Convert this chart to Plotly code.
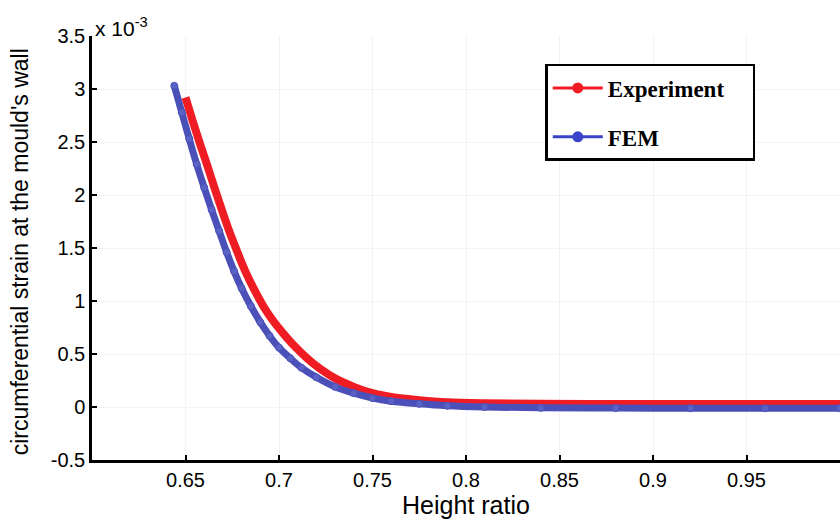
import plotly.graph_objects as go

# Experiment series (height ratio, strain x 1e-3)
exp_x = [0.650, 0.654, 0.658, 0.662, 0.666, 0.670, 0.674, 0.678, 0.682, 0.687,
         0.692, 0.697, 0.702, 0.708, 0.715, 0.722, 0.730, 0.740, 0.750, 0.760,
         0.775, 0.790, 0.810, 0.840, 0.880, 0.920, 0.960, 1.000]
exp_y = [2.92, 2.69, 2.47, 2.26, 2.04, 1.83, 1.63, 1.45, 1.28, 1.10,
         0.94, 0.81, 0.70, 0.58, 0.46, 0.36, 0.27, 0.19, 0.13, 0.095,
         0.065, 0.045, 0.035, 0.030, 0.028, 0.028, 0.028, 0.028]

# FEM series
fem_x = [0.644, 0.648, 0.652, 0.656, 0.660, 0.664, 0.668, 0.672, 0.676, 0.680,
         0.685, 0.690, 0.695, 0.700, 0.706, 0.712, 0.720, 0.730, 0.740, 0.750,
         0.760, 0.775, 0.790, 0.810, 0.840, 0.880, 0.920, 0.960, 1.000]
fem_y = [3.03, 2.78, 2.53, 2.29, 2.07, 1.86, 1.66, 1.46, 1.28, 1.12,
         0.95, 0.80, 0.67, 0.56, 0.46, 0.37, 0.28, 0.19, 0.13, 0.085,
         0.055, 0.030, 0.012, 0.000, -0.008, -0.010, -0.012, -0.012, -0.012]

x_ticks = [0.65, 0.7, 0.75, 0.8, 0.85, 0.9, 0.95]
x_tick_text = ["0.65", "0.7", "0.75", "0.8", "0.85", "0.9", "0.95"]
y_ticks = [-0.5, 0, 0.5, 1, 1.5, 2, 2.5, 3, 3.5]
y_tick_text = ["-0.5", "0", "0.5", "1", "1.5", "2", "2.5", "3", "3.5"]

RED = "#f01c24"
BLUE = "#4a50b8"
NB = "\u00a0" * 4

fig = go.Figure()
fig.add_trace(go.Scatter(
    x=exp_x, y=exp_y, name="Experiment", mode="lines",
    line=dict(color=RED, width=8, shape="spline", smoothing=1.0),
    showlegend=False,
))
fig.add_trace(go.Scatter(
    x=fem_x, y=fem_y, name="FEM", mode="lines+markers",
    line=dict(color=BLUE, width=7, shape="spline", smoothing=1.0),
    marker=dict(color="#5a62c6", size=7, symbol="circle",
                line=dict(color="#4a50b8", width=1)),
    showlegend=False,
))
# legend entries (no data, legend only)
fig.add_trace(go.Scatter(
    x=[None], y=[None], name="Experiment" + NB, mode="lines+markers",
    line=dict(color=RED, width=3), marker=dict(color=RED, size=11),
    legendgroup="a",
))
fig.add_trace(go.Scatter(
    x=[None], y=[None], name="FEM", mode="lines+markers",
    line=dict(color="#3a44c8", width=3), marker=dict(color="#3a44c8", size=11),
    legendgroup="b",
))

sans = "Liberation Sans, Arial, sans-serif"
axis_font = dict(family=sans, size=20, color="black")
fig.update_layout(
    width=840, height=523,
    margin=dict(l=92, r=0, t=36, b=63),
    paper_bgcolor="white", plot_bgcolor="white",
    xaxis=dict(range=[0.6, 1.0], tickvals=x_ticks, ticktext=x_tick_text,
               ticks="inside", ticklen=5, tickwidth=2, tickcolor="black",
               showline=True, linecolor="black", linewidth=2.5,
               showgrid=True, gridcolor="#f3f3f3", zeroline=False,
               tickfont=axis_font,
               title=dict(text="Height ratio", font=dict(family=sans, size=25, color="black"), standoff=6)),
    yaxis=dict(range=[-0.5, 3.5], tickvals=y_ticks, ticktext=y_tick_text,
               ticks="inside", ticklen=5, tickwidth=2, tickcolor="black",
               showline=True, linecolor="black", linewidth=2.5,
               showgrid=True, gridcolor="#f3f3f3", zeroline=False,
               tickfont=axis_font),
    legend=dict(x=0.606, y=0.934, xanchor="left", yanchor="top",
                bordercolor="black", borderwidth=2.5, bgcolor="white",
                font=dict(family="Liberation Serif, Times New Roman, serif", size=23, color="black", weight="bold"),
                tracegroupgap=16, itemwidth=50),
    showlegend=True,
)
fig.add_annotation(xref="paper", yref="paper", x=0.0, y=0.49, xanchor="center", yanchor="middle",
                   text="circumferential strain at the mould's wall", textangle=-90,
                   showarrow=False, xshift=-72,
                   font=dict(family=sans, size=23, color="black"))
fig.add_annotation(xref="paper", yref="paper", x=0.0, y=1.0, xanchor="left", yanchor="bottom",
                   text="x 10<sup>-3</sup>", showarrow=False, xshift=1, yshift=-6,
                   font=dict(family=sans, size=21, color="black"))

fig.write_html("out.html")
